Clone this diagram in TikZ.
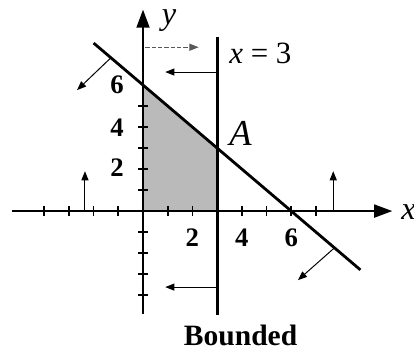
\documentclass[tikz,border=0pt]{standalone}
\usepackage{fontspec}
\setmainfont{Liberation Serif}
\usetikzlibrary{arrows.meta}

\begin{document}
\begin{tikzpicture}[x=0.6175cm,y=0.525cm,
        axis/.style={line width=2pt,-{Triangle[length=13pt,width=9pt]}},
        bound/.style={line width=2pt},
        pointer/.style={line width=0.7pt,-{Triangle[length=6.5pt,width=5pt]}},
        num/.style={inner sep=0pt,font=\fontsize{19}{20}\selectfont\bfseries}]
        \useasboundingbox (-5.79,-6.62) rectangle (10.97,10.05);
        \fill[black!27] (0,0) -- (0,6) -- (3,3) -- (3,0) -- cycle;
        \draw[axis] (-5.3,0) -- (10.1,0);
        \draw[axis] (0,-4.9) -- (0,9.6);
        \foreach \t in {-4,...,-1,1,2,...,7}
            \draw[line width=1.2pt] (\t,-0.22) -- (\t,0.22);
        \foreach \t in {-4,...,-1,1,2,...,5}
            \draw[line width=1.2pt] (-0.19,\t) -- (0.19,\t);
        \draw[bound] (-2,8) -- (8.8,-2.8);
        \draw[bound] (3,8.3) -- (3,-4.95);
        \draw[pointer,black!65,dash pattern=on 3pt off 1.5pt] (0.1,7.8) -- (2.25,7.8);
        \draw[pointer] (3,6.62) -- (0.9,6.62);
        \draw[pointer] (3,-3.62) -- (0.9,-3.62);
        \draw[pointer] (-1.3,7.3) -- (-2.67,5.76);
        \draw[pointer] (7.75,-1.75) -- (6.27,-3.29);
        \draw[pointer] (-2.35,0) -- (-2.35,1.9);
        \draw[pointer] (7.7,0) -- (7.7,1.9);
        \node[inner sep=0pt,font=\fontsize{23}{24}\selectfont\itshape] (ylab) at (1.05,9.05) {y};
        \node[inner sep=0pt,font=\fontsize{23}{24}\selectfont\itshape] (xlab) at (10.75,-0.05) {x};
        \node[inner sep=0pt,font=\fontsize{22}{24}\selectfont] (vline) at (4.75,7.5) {\textit{x} = 3};
        \node[inner sep=0pt,font=\fontsize{26}{28}\selectfont\itshape] (pA) at (3.95,3.7) {A};
        \node[num] (y6) at (-1.05,6) {6};
        \node[num] (y4) at (-1.05,3.95) {4};
        \node[num] (y2) at (-1.05,2.05) {2};
        \node[num] (x2) at (2,-1.25) {2};
        \node[num] (x4) at (4,-1.25) {4};
        \node[num] (x6) at (6,-1.25) {6};
        \node[inner sep=0pt,font=\fontsize{21}{22}\selectfont\bfseries] (cap) at (3.95,-5.9) {Bounded};
    \end{tikzpicture}
\end{document}
